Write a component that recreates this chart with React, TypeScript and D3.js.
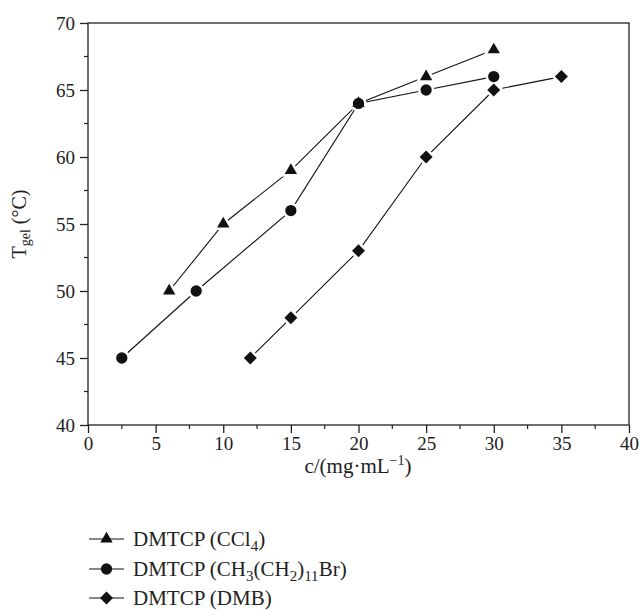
import React, { useEffect, useRef } from 'react';
import * as d3 from 'd3';

// gel temperature vs concentration, three solvents

const concCCl4 = [6, 10, 15, 20, 25, 30];
const tgelCCl4 = [50, 55, 59, 64, 66, 68];

const concBr = [2.5, 8, 15, 20, 25, 30];
const tgelBr = [45, 50, 56, 64, 65, 66];

const concDMB = [12, 15, 20, 25, 30, 35];
const tgelDMB = [45, 48, 53, 60, 65, 66];

const xTicks = [0, 5, 10, 15, 20, 25, 30, 35, 40];
const yTicks = [40, 45, 50, 55, 60, 65, 70];

const FONT = '"Liberation Serif", "Times New Roman", serif';

export default function App() {
  const ref = useRef<SVGSVGElement>(null);

  useEffect(() => {
    const width = 639;
    const height = 610;
    const svg = d3.select(ref.current).attr('width', width).attr('height', height);
    svg.selectAll('*').remove();

    const x = d3.scaleLinear().domain([0, 40]).range([88, 629]);
    const y = d3.scaleLinear().domain([40, 70]).range([425, 23]);

    // frame
    svg.append('rect')
      .attr('x', x(0)).attr('y', y(70))
      .attr('width', x(40) - x(0)).attr('height', y(40) - y(70))
      .attr('fill', 'none').attr('stroke', '#222').attr('stroke-width', 1.3);

    // minor ticks
    const xMinor = d3.range(2.5, 40, 5);
    const yMinor = d3.range(42.5, 70, 5);
    svg.append('g').selectAll('line').data(xMinor).enter().append('line')
      .attr('x1', (d) => x(d)).attr('x2', (d) => x(d))
      .attr('y1', y(40)).attr('y2', y(40) + 4)
      .attr('stroke', '#222').attr('stroke-width', 1.2);
    svg.append('g').selectAll('line').data(yMinor).enter().append('line')
      .attr('y1', (d) => y(d)).attr('y2', (d) => y(d))
      .attr('x1', x(0)).attr('x2', x(0) - 4)
      .attr('stroke', '#222').attr('stroke-width', 1.2);

    // axes
    const gx = svg.append('g').attr('transform', 'translate(0,' + y(40) + ')')
      .call(d3.axisBottom(x).tickValues(xTicks).tickSize(8).tickPadding(4).tickFormat(d3.format('d')));
    const gy = svg.append('g').attr('transform', 'translate(' + x(0) + ',0)')
      .call(d3.axisLeft(y).tickValues(yTicks).tickSize(8).tickPadding(5).tickFormat(d3.format('d')));
    [gx, gy].forEach((g) => {
      g.select('.domain').remove();
      g.selectAll('line').attr('stroke', '#222').attr('stroke-width', 1.3);
      g.selectAll('text').attr('font-family', FONT).attr('font-size', 19).attr('fill', '#222');
    });

    const series = [
      { xs: concCCl4, ys: tgelCCl4, sym: d3.symbolTriangle, size: 66, rot: 0 },
      { xs: concBr, ys: tgelBr, sym: d3.symbolCircle, size: 100, rot: 0 },
      { xs: concDMB, ys: tgelDMB, sym: d3.symbolSquare, size: 84, rot: 45 },
    ];

    // lines first
    series.forEach((s) => {
      const pts = s.xs.map((v, i) => [x(v), y(s.ys[i])] as [number, number]);
      svg.append('path')
        .attr('d', d3.line()(pts))
        .attr('fill', 'none').attr('stroke', '#111').attr('stroke-width', 1.1);
    });
    // white halo to leave a gap between lines and markers
    series.forEach((s) => {
      s.xs.forEach((v, i) => {
        svg.append('path')
          .attr('d', d3.symbol().type(s.sym).size(s.size)())
          .attr('transform', 'translate(' + x(v) + ',' + y(s.ys[i]) + ') rotate(' + s.rot + ')')
          .attr('fill', 'white').attr('stroke', 'white').attr('stroke-width', 5);
      });
    });
    series.forEach((s) => {
      s.xs.forEach((v, i) => {
        svg.append('path')
          .attr('d', d3.symbol().type(s.sym).size(s.size)())
          .attr('transform', 'translate(' + x(v) + ',' + y(s.ys[i]) + ') rotate(' + s.rot + ')')
          .attr('fill', '#111');
      });
    });

    // x title
    const xt = svg.append('text')
      .attr('x', 358).attr('y', 473)
      .attr('text-anchor', 'middle')
      .attr('font-family', FONT).attr('font-size', 21).attr('fill', '#222');
    xt.append('tspan').text('c/(mg·mL');
    xt.append('tspan').attr('dy', -8).attr('font-size', 14).text('−1');
    xt.append('tspan').attr('dy', 8).text(')');

    // y title
    const yt = svg.append('text')
      .attr('transform', 'translate(26,224) rotate(-90)')
      .attr('text-anchor', 'middle')
      .attr('font-family', FONT).attr('font-size', 20).attr('fill', '#222');
    yt.append('tspan').text('T');
    yt.append('tspan').attr('dy', 4).attr('font-size', 14).text('gel');
    yt.append('tspan').attr('dy', -4).text(' (°C)');

    // legend
    const legendRows: [number, string[][]][] = [
      [539, [['DMTCP (CCl', '0'], ['4', '1'], [')', '0']]],
      [569, [['DMTCP (CH', '0'], ['3', '1'], ['(CH', '0'], ['2', '1'], [')', '0'], ['11', '1'], ['Br)', '0']]],
      [598, [['DMTCP (DMB)', '0']]],
    ];
    legendRows.forEach(([ly, parts], k) => {
      const s = series[k];
      svg.append('line').attr('x1', 89).attr('x2', 124).attr('y1', ly).attr('y2', ly)
        .attr('stroke', '#111').attr('stroke-width', 1.1);
      svg.append('path')
        .attr('d', d3.symbol().type(s.sym).size(s.size)())
        .attr('transform', 'translate(106.5,' + ly + ') rotate(' + s.rot + ')')
        .attr('fill', '#111');
      const t = svg.append('text').attr('x', 133).attr('y', ly + 7)
        .attr('font-family', FONT).attr('font-size', 21).attr('fill', '#222');
      let sub = false;
      parts.forEach(([txt, isSub]) => {
        const nowSub = isSub === '1';
        const ts = t.append('tspan').text(txt);
        if (nowSub && !sub) ts.attr('dy', 5).attr('font-size', 15);
        else if (nowSub) ts.attr('font-size', 15);
        else if (!nowSub && sub) ts.attr('dy', -5);
        sub = nowSub;
      });
    });
  }, []);

  return (
    <div>
      <svg ref={ref} style={{ position: 'absolute', left: 0, top: 0 }}></svg>
    </div>
  );
}
